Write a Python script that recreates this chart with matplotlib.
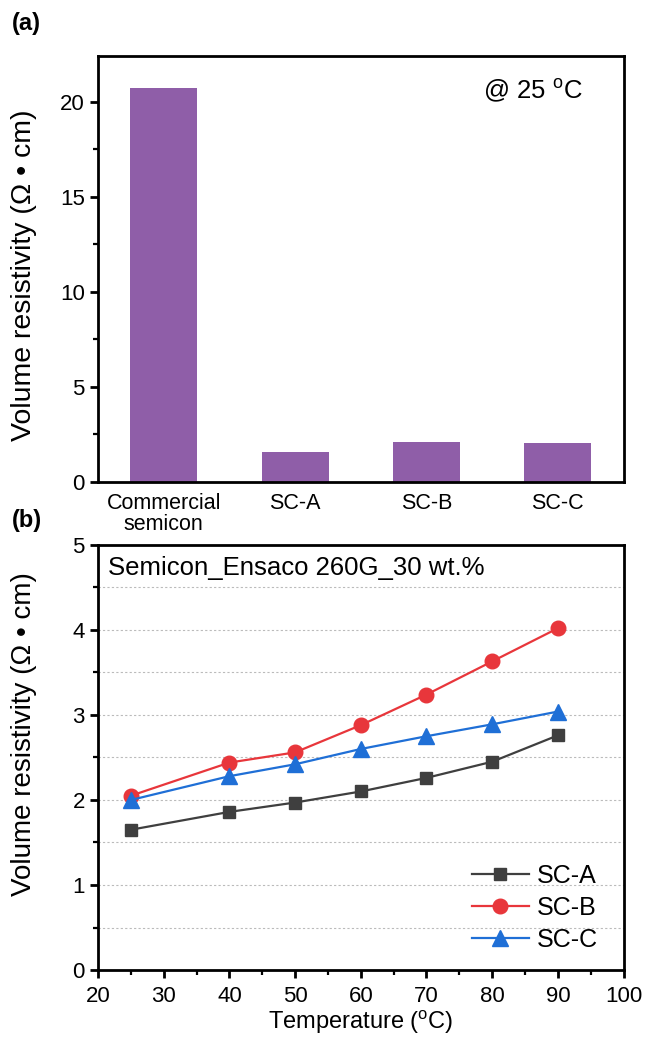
import matplotlib
matplotlib.use("Agg")
import matplotlib.pyplot as plt
from matplotlib.ticker import MultipleLocator

plt.rcParams['font.family'] = ['Liberation Sans', 'DejaVu Sans']
plt.rcParams['mathtext.fontset'] = 'custom'
plt.rcParams['mathtext.rm'] = 'Liberation Sans'
plt.rcParams['mathtext.it'] = 'Liberation Sans'

# Panel (a) data
categories = ["Commercial\nsemicon", "SC-A", "SC-B", "SC-C"]
resistivity_25C = [20.7, 1.55, 2.09, 2.04]

# Panel (b) data
temperature = [25, 40, 50, 60, 70, 80, 90]
sc_a = [1.65, 1.86, 1.97, 2.10, 2.26, 2.45, 2.76]
sc_b = [2.05, 2.44, 2.56, 2.88, 3.24, 3.63, 4.02]
sc_c = [2.00, 2.28, 2.42, 2.60, 2.75, 2.89, 3.04]

ylabel = "Volume resistivity (\u03a9 \u2022 cm)"

fig = plt.figure(figsize=(6.46, 10.4), dpi=100)
ax1 = fig.add_axes([0.1517, 0.537, 0.8135, 0.4092])
ax2 = fig.add_axes([0.1517, 0.0673, 0.8135, 0.4087])

for ax in (ax1, ax2):
    for s in ax.spines.values():
        s.set_linewidth(2.0)

# Panel (a)
x = list(range(len(categories)))
ax1.bar(x, resistivity_25C, width=0.51, color="#8f5ea8")
ax1.set_xlim(-0.5, 3.5)
ax1.set_ylim(0, 22.4)
ax1.set_xticks(x)
ax1.set_xticklabels(categories, fontsize=15.5, linespacing=1.05)
ax1.tick_params(axis='x', length=0, pad=8)
ax1.yaxis.set_major_locator(MultipleLocator(5))
ax1.yaxis.set_minor_locator(MultipleLocator(2.5))
ax1.tick_params(axis='y', which='major', direction='out', length=6, width=2.0, labelsize=16)
ax1.tick_params(axis='y', which='minor', direction='out', length=3.5, width=1.6)
ax1.set_ylabel(ylabel, fontsize=20.5)
ax1.yaxis.set_label_coords(-0.116, 0.485)
ax1.text(0.923, 0.918, "@ 25 $^{\\mathrm{o}}$C", transform=ax1.transAxes, fontsize=18.5,
         ha='right', va='center')

# Panel (b)
ax2.yaxis.set_major_locator(MultipleLocator(1))
ax2.yaxis.set_minor_locator(MultipleLocator(0.5))
ax2.xaxis.set_major_locator(MultipleLocator(10))
ax2.xaxis.set_minor_locator(MultipleLocator(5))
ax2.grid(True, which='both', axis='y', linestyle=(0, (2, 2)), color='#bbbbbb', linewidth=0.8)
ax2.set_axisbelow(True)
ax2.plot(temperature, sc_a, color="#3f3f3f", marker='s', markersize=9, linewidth=1.6, label="SC-A")
ax2.plot(temperature, sc_b, color="#e8363b", marker='o', markersize=10.5, linewidth=1.6, label="SC-B")
ax2.plot(temperature, sc_c, color="#1f6fd6", marker='^', markersize=11, linewidth=1.6, label="SC-C")
ax2.set_xlim(20, 100)
ax2.set_ylim(0, 5)
ax2.tick_params(axis='both', which='major', direction='out', length=6, width=2.0, labelsize=16)
ax2.tick_params(axis='both', which='minor', direction='out', length=3.5, width=1.6)
ax2.tick_params(axis='x', which='major', pad=5.5)
ax2.set_ylabel(ylabel, fontsize=20)
ax2.yaxis.set_label_coords(-0.116, 0.556)
ax2.set_xlabel("Temperature ($^{\\mathrm{o}}$C)", fontsize=17, labelpad=1)
ax2.text(0.019, 0.946, "Semicon_Ensaco 260G_30 wt.%", transform=ax2.transAxes, fontsize=18.5,
         ha='left', va='center')
leg = ax2.legend(loc='lower right', frameon=False, fontsize=18, handlelength=2.3,
                 handletextpad=0.3, labelspacing=0.32, borderaxespad=0,
                 bbox_to_anchor=(0.97, 0.02))

fig.text(0.018, 0.977, "(a)", fontsize=17, fontweight='bold', ha='left', va='center')
fig.text(0.018, 0.5, "(b)", fontsize=17, fontweight='bold', ha='left', va='center')

fig.savefig("out.png", dpi=100)
